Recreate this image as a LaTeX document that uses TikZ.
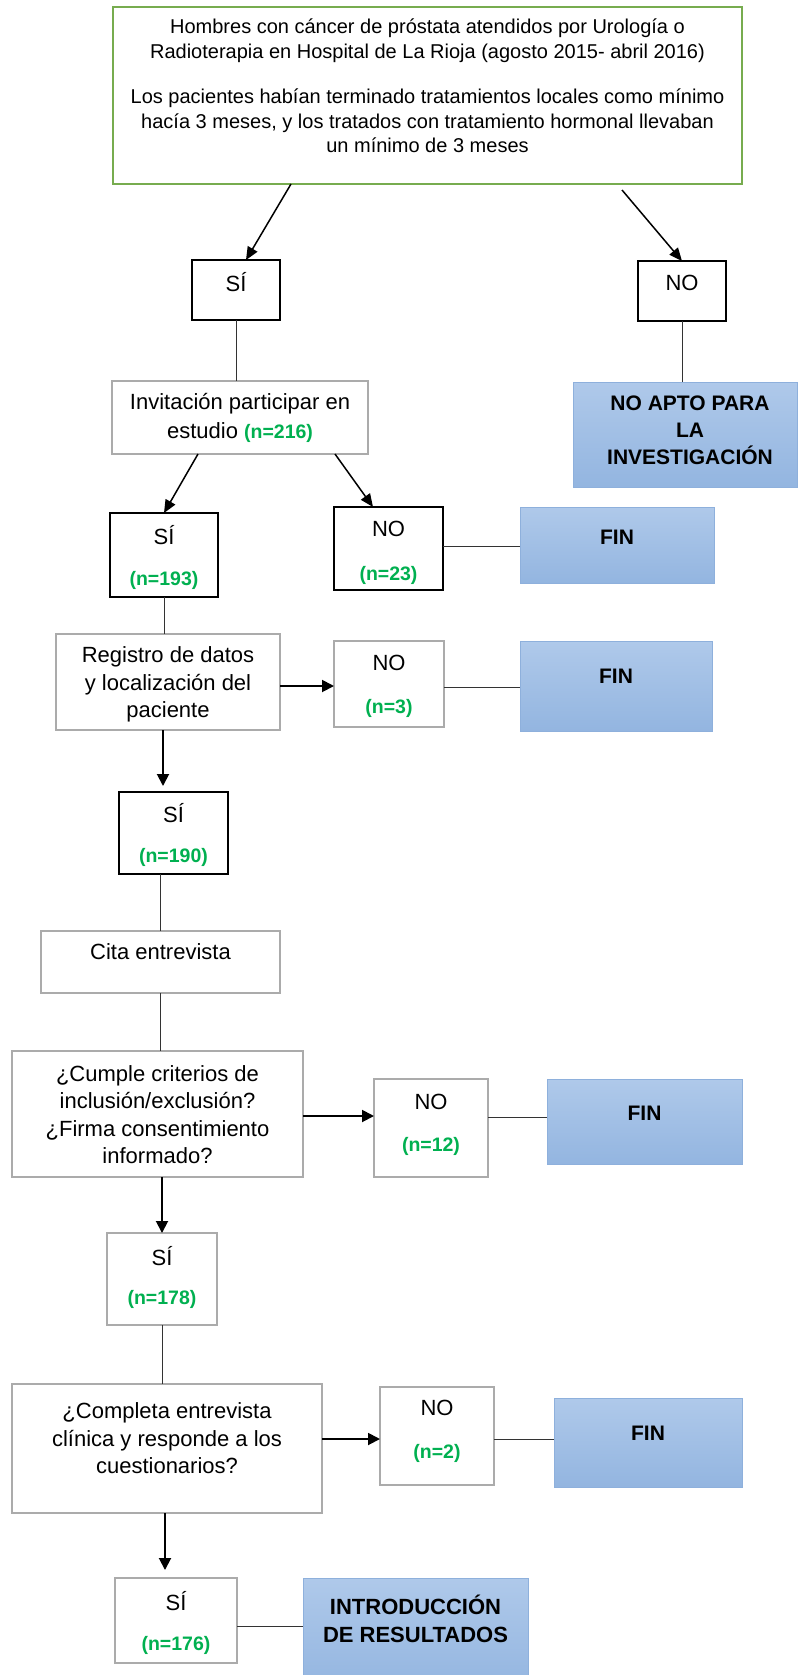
\documentclass[tikz,border=0pt]{standalone}
\usepackage{fontspec}
\setmainfont{Liberation Sans}
\usetikzlibrary{arrows.meta}
\definecolor{boxgreen}{HTML}{77AC4F}
\definecolor{ngreen}{HTML}{00B050}
\definecolor{boxgray}{HTML}{ABABAB}
\definecolor{blueT}{HTML}{AFC9EA}
\definecolor{blueB}{HTML}{93B5E0}
\definecolor{blueD}{HTML}{8EB0DC}
\newcommand{\nval}[1]{{\fontsize{19.5}{24}\selectfont\bfseries\color{ngreen}(n=#1)}}
\tikzset{
  base/.style={rectangle, inner sep=0pt, outer sep=0pt},
  greenbox/.style={base, draw=boxgreen, line width=1.8pt, fill=white},
  blackbox/.style={base, draw=black, line width=1.4pt},
  graybox/.style={base, draw=boxgray, line width=1.8pt},
  bluebox/.style={base, draw=blueD, line width=0.8pt, top color=blueT, bottom color=blueB},
  txt/.style={inner sep=0pt, align=center, font=\fontsize{22}{27.5}\selectfont},
  toptxt/.style={inner sep=0pt, align=center, font=\fontsize{20}{24.5}\selectfont},
  boldtxt/.style={inner sep=0pt, align=center, font=\fontsize{21}{27}\selectfont\bfseries},
  nv/.style={inner sep=0pt},
  thin/.style={draw=black!80, line width=0.9pt},
  arrow/.style={draw=black, line width=1.9pt, -{Triangle[length=12pt,width=12pt]}},
  slant/.style={draw=black, line width=1.5pt, -{Triangle[length=13pt,width=11pt]}},
}
\begin{document}
\begin{tikzpicture}[x=1pt,y=-1pt]
\useasboundingbox (0,0) rectangle (800,1675);
\fill[white] (0,0) rectangle (800,1675);

% boxes
\node[greenbox, minimum width=629, minimum height=177] (top) at (427.5,95.5) {};
\node[blackbox, minimum width=88, minimum height=60] (si1) at (236,290) {};
\node[blackbox, minimum width=88, minimum height=60] (no1) at (682,291) {};
\node[graybox, minimum width=256, minimum height=73] (inv) at (240,417.5) {};
\node[bluebox, minimum width=224, minimum height=105] (noapto) at (685,434.5) {};
\node[blackbox, minimum width=108, minimum height=84] (si2) at (164,555) {};
\node[blackbox, minimum width=109, minimum height=83] (no2) at (388.5,548.5) {};
\node[bluebox, minimum width=194, minimum height=76] (fin1) at (617,545) {};
\node[graybox, minimum width=224, minimum height=96] (reg) at (168,682) {};
\node[graybox, minimum width=110, minimum height=86] (no3) at (389,684) {};
\node[bluebox, minimum width=192, minimum height=90] (fin2) at (616,686) {};
\node[blackbox, minimum width=109, minimum height=82] (si3) at (173.5,833) {};
\node[graybox, minimum width=239, minimum height=62] (cita) at (160.5,962) {};
\node[graybox, minimum width=291, minimum height=126] (cumple) at (157.5,1114) {};
\node[graybox, minimum width=114, minimum height=98] (no4) at (431,1128) {};
\node[bluebox, minimum width=195, minimum height=85] (fin3) at (644.5,1121.5) {};
\node[graybox, minimum width=110, minimum height=92] (si4) at (162,1279) {};
\node[graybox, minimum width=310, minimum height=129] (completa) at (167,1448.5) {};
\node[graybox, minimum width=114, minimum height=98] (no5) at (437,1436) {};
\node[bluebox, minimum width=188, minimum height=89] (fin4) at (648,1442.5) {};
\node[graybox, minimum width=122, minimum height=85] (si5) at (176,1620.5) {};
\node[bluebox, minimum width=225, minimum height=112] (intro) at (415.5,1634) {};

% texts
\node[toptxt] (t1) at (427.5,40.5) {Hombres con cáncer de próstata atendidos por Urología o\\Radioterapia en Hospital de La Rioja (agosto 2015- abril 2016)};
\node[toptxt] (t2) at (427.5,121) {Los pacientes habían terminado tratamientos locales como mínimo\\hacía 3 meses, y los tratados con tratamiento hormonal llevaban\\un mínimo de 3 meses};
\node[txt] (s1t) at (236,282) {SÍ};
\node[txt] (n1t) at (682,283) {NO};
\node[txt, font=\fontsize{22}{29}\selectfont] (invt) at (240,417.5) {Invitación participar en\\estudio \nval{216}};
\node[boldtxt] (noaptot) at (690,430) {NO APTO PARA\\LA\\INVESTIGACIÓN};
\node[txt] (s2t) at (164,535) {SÍ};
\node[nv] (s2n) at (164,580) {\nval{193}};
\node[txt] (n2t) at (388.5,529) {NO};
\node[nv] (n2n) at (388.5,575) {\nval{23}};
\node[boldtxt] (f1t) at (617,537) {FIN};
\node[txt] (regt) at (168,684.5) {Registro de datos\\y localización del\\paciente};
\node[txt] (n3t) at (389,663) {NO};
\node[nv] (n3n) at (389,708) {\nval{3}};
\node[boldtxt] (f2t) at (616,676) {FIN};
\node[txt] (s3t) at (173.5,813) {SÍ};
\node[nv] (s3n) at (173.5,857) {\nval{190}};
\node[txt] (citat) at (160.5,952) {Cita entrevista};
\node[txt] (cumplet) at (157.5,1114.5) {¿Cumple criterios de\\inclusión/exclusión?\\¿Firma consentimiento\\informado?};
\node[txt] (n4t) at (431,1102) {NO};
\node[nv] (n4n) at (431,1146) {\nval{12}};
\node[boldtxt] (f3t) at (644.5,1113) {FIN};
\node[txt] (s4t) at (162,1256) {SÍ};
\node[nv] (s4n) at (162,1299) {\nval{178}};
\node[txt] (completat) at (167,1438.5) {¿Completa entrevista\\clínica y responde a los\\cuestionarios?};
\node[txt] (n5t) at (437,1408) {NO};
\node[nv] (n5n) at (437,1453) {\nval{2}};
\node[boldtxt] (f4t) at (648,1433) {FIN};
\node[txt] (s5t) at (176,1601) {SÍ};
\node[nv] (s5n) at (176,1645) {\nval{176}};
\node[boldtxt, font=\fontsize{22}{28}\selectfont\bfseries] (introt) at (415.5,1619) {INTRODUCCIÓN\\DE RESULTADOS};

% connectors
\coordinate (tr) at (622,190);
\draw[slant] ([xshift=178pt]top.south west) -- ([xshift=10pt]si1.north);
\draw[slant] (tr) -- (no1.north);
\draw[thin] (si1.south) -- (si1.south |- inv.north);
\draw[thin] (no1.south) -- (no1.south |- noapto.north);
\draw[slant] ([xshift=86pt]inv.south west) -- (si2.north);
\draw[slant] ([xshift=223pt]inv.south west) -- ([xshift=-15.5pt]no2.north);
\draw[thin] ([yshift=2.5pt]no2.east) -- ([yshift=2.5pt]no2.east -| fin1.west);
\draw[thin] (si2.south) -- (si2.south |- reg.north);
\draw[arrow] ([yshift=-4pt]reg.east) -- ([yshift=-4pt]reg.east -| no3.west);
\draw[thin] ([yshift=-3pt]no3.east) -- ([yshift=-3pt]no3.east -| fin2.west);
\draw[arrow, shorten >=6pt] ([xshift=-5pt]reg.south) -- ([xshift=-5pt]reg.south |- si3.north);
\draw[thin] (cita.north) -- (cita.north |- si3.south);
\draw[thin] (cita.south) -- (cita.south |- cumple.north);
\draw[arrow] ([yshift=-2pt]cumple.east) -- ([yshift=-2pt]cumple.east -| no4.west);
\draw[thin] ([yshift=11pt]no4.east) -- ([yshift=11pt]no4.east -| fin3.west);
\draw[arrow] (si4.north |- cumple.south) -- (si4.north);
\draw[thin] (si4.south) -- (si4.south |- completa.north);
\draw[arrow] ([yshift=9.5pt]completa.east) -- ([yshift=9.5pt]completa.east -| no5.west);
\draw[thin] ([yshift=-3pt]no5.east) -- ([yshift=-3pt]no5.east -| fin4.west);
\draw[arrow, shorten >=8pt] ([xshift=-2pt]completa.south) -- ([xshift=-2pt]completa.south |- si5.north);
\draw[thin] ([yshift=-5.5pt]si5.east) -- ([yshift=-5.5pt]si5.east -| intro.west);
\end{tikzpicture}
\end{document}
